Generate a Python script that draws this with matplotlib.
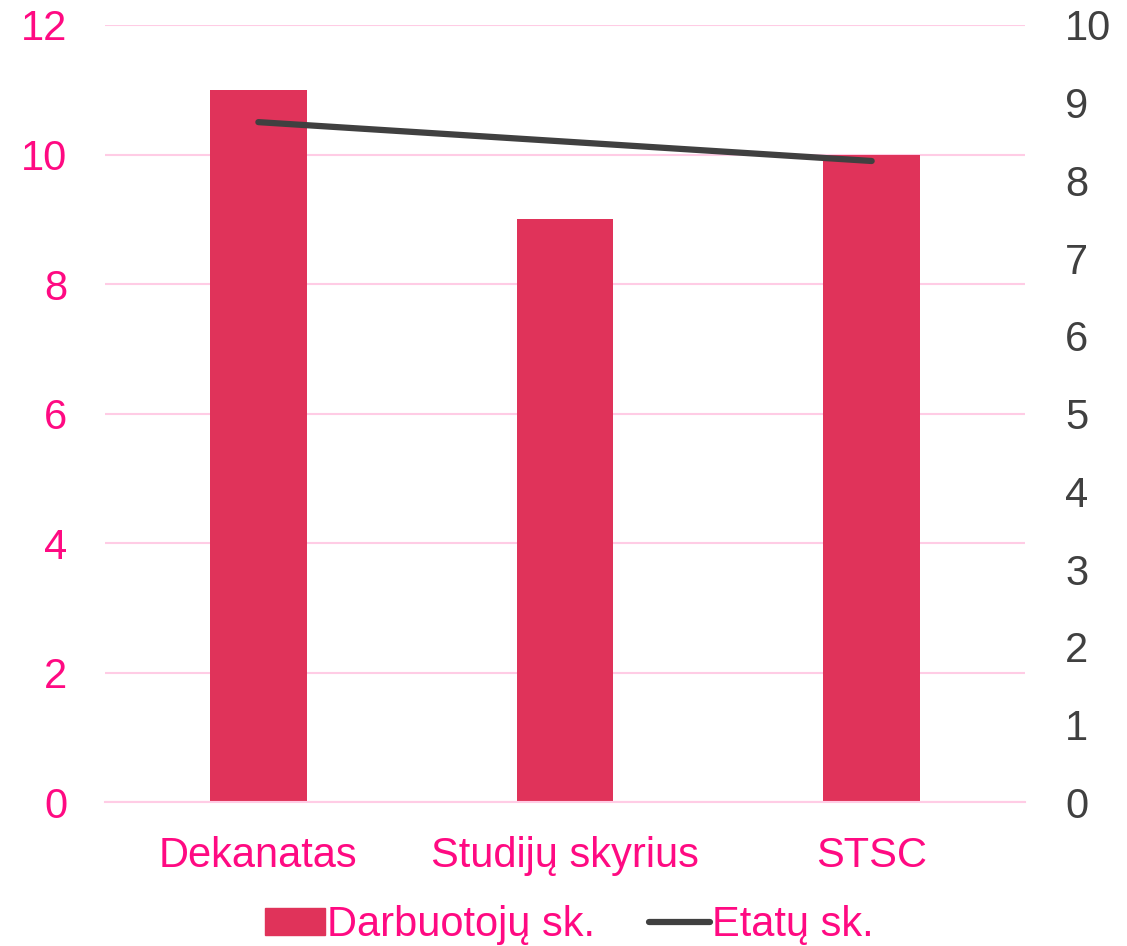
import matplotlib.pyplot as plt
from matplotlib.lines import Line2D
from matplotlib.patches import Patch

plt.rcParams['font.family'] = ['Liberation Sans', 'DejaVu Sans']

# data
categories = ["Dekanatas", "Studijų skyrius", "STSC"]
darbuotoju = [11, 9, 10]
etatu = [8.75, 8.5, 8.25]

bar_color = "#E0335A"
pink = "#FF0A82"
dark = "#404040"
grid_color = "#FFCCE5"

fig = plt.figure(figsize=(11.27, 9.46), dpi=100)
ax = fig.add_axes([0.0932, 0.152, 0.8163, 0.8216])
ax2 = ax.twinx()

x = range(len(categories))
ax.bar(x, darbuotoju, width=0.315, color=bar_color, zorder=2)
ax.set_ylim(0, 12)
ax.set_yticks(range(0, 13, 2))
ax.set_xlim(-0.5, 2.5)
ax.set_xticks(list(x))
ax.set_xticklabels(categories)
ax.grid(axis="y", color=grid_color, linewidth=1.5, zorder=0)
ax.set_axisbelow(True)
ax.tick_params(axis="y", colors=pink, labelsize=30, length=0, pad=27)
ax.tick_params(axis="x", colors=pink, labelsize=30, length=0, pad=24)

ax2.plot(list(x), etatu, color=dark, linewidth=4.5, solid_capstyle="round", zorder=3)
ax2.set_ylim(0, 10)
ax2.set_yticks(range(0, 11))
ax2.tick_params(axis="y", colors=dark, labelsize=30, length=0, pad=29)

for a in (ax, ax2):
    for s in a.spines.values():
        s.set_visible(False)
ax.spines["bottom"].set_visible(True)
ax.spines["bottom"].set_color(grid_color)
ax.spines["bottom"].set_linewidth(1.5)

handles = [Patch(color=bar_color), Line2D([0], [0], color=dark, linewidth=4.5, solid_capstyle="round")]
fig.legend(handles, ["Darbuotojų sk.", "Etatų sk."], loc="center", bbox_to_anchor=(0.505, 0.022),
           ncol=2, frameon=False, fontsize=30, labelcolor=pink, handlelength=1.45,
           handleheight=0.6, handletextpad=0.05, columnspacing=1.3)

fig.savefig("out.png", dpi=100)
